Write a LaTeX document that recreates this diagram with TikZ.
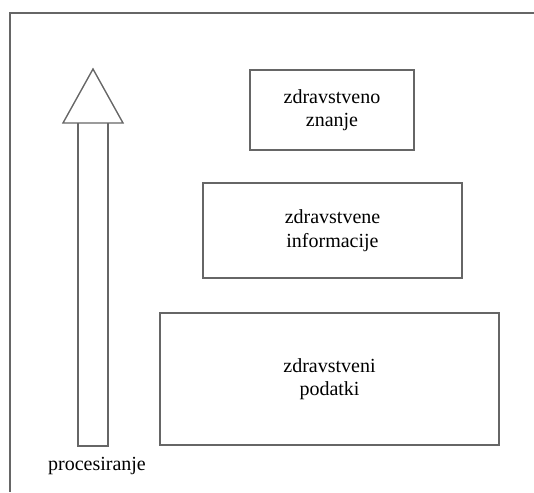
\documentclass[tikz,border=0pt]{standalone}
\usepackage{fontspec}
\setmainfont{Liberation Serif}
\begin{document}
\begin{tikzpicture}[x=1pt,y=-1pt,
  line/.style={draw=black!60, line width=1.4pt},
  levelbox/.style={line, rectangle, inner sep=0pt, align=center,
    font=\fontsize{20}{23.5}\selectfont},
  lbl/.style={inner sep=0pt, font=\fontsize{20}{23.5}\selectfont, anchor=base}]
\useasboundingbox (0,0) rectangle (534,492);
% outer frame
\draw[line] (534,13) -- (10,13) -- (10,492);
% processing arrow
\draw[line, line join=miter] (63,123) -- (93,69) -- (123,123) -- cycle;
\draw[line] (78,123) -- (78,446) -- (108,446) -- (108,123);
\node[lbl] (proc) at (97,470) {procesiranje};
% levels
\node[levelbox, minimum width=164pt, minimum height=80pt] (znanje) at (332,110) {zdravstveno\\znanje};
\node[levelbox, minimum width=259pt, minimum height=95pt] (info) at (332.5,230.5) {zdravstvene\\informacije};
\node[levelbox, minimum width=339pt, minimum height=132pt] (podatki) at (329.5,379) {zdravstveni\\podatki};
\end{tikzpicture}
\end{document}
